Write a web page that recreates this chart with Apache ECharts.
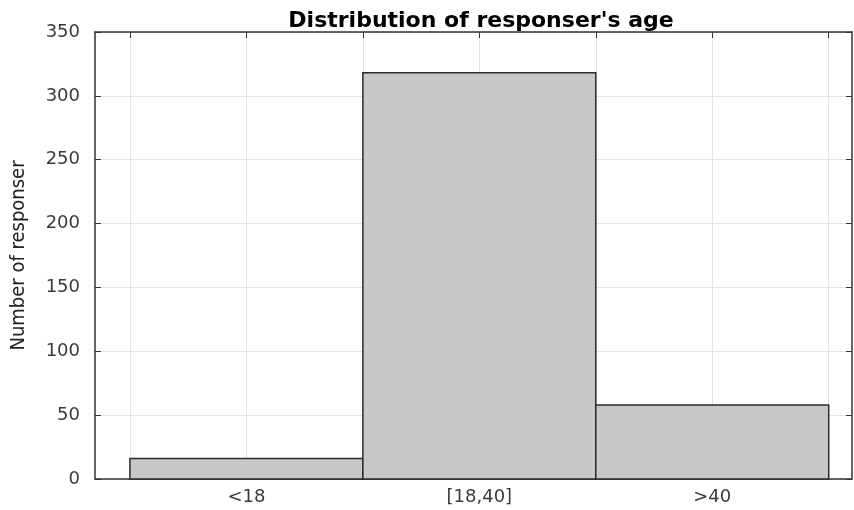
<!DOCTYPE html>
<html>
<head>
<meta charset="utf-8">
<script src="https://cdn.jsdelivr.net/npm/echarts@6/dist/echarts.min.js"></script>
<style>html,body{margin:0;padding:0;background:#fff}#c{width:854px;height:510px}</style>
</head>
<body>
<div id="c"></div>
<script>
const categories = ['<18', '[18,40]', '>40'];
const binCenters = [1, 2, 3];
const binStarts = [0.5, 1.5, 2.5];
const binEnds = [1.5, 2.5, 3.5];
const counts = [16, 318, 58];
const gridTicks = [0.5, 1, 1.5, 2, 2.5, 3, 3.5];
const yTicks = [0, 50, 100, 150, 200, 250, 300, 350];

const chart = echarts.init(document.getElementById('c'));
const labelFont = 'DejaVu Sans, sans-serif';
const barData = counts.map((v, i) => [binStarts[i], binEnds[i], v, categories[i]]);

chart.setOption({
  animation: false,
  title: {
    text: "Distribution of responser's age",
    left: 476, top: 5, textAlign: 'center',
    textStyle: { fontFamily: 'DejaVu Sans', fontWeight: 'bold', fontSize: 22, color: '#000' }
  },
  grid: { left: 95, right: 2, top: 32, bottom: 31, containLabel: false, outerBoundsMode: 'none' },
  xAxis: [{
    type: 'value', position: 'bottom', min: 0.35, max: 3.6,
    axisLine: { show: true, onZero: false, lineStyle: { color: '#333', width: 1.5 } },
    axisTick: { show: true, inside: true, length: 6, customValues: binCenters, lineStyle: { color: '#333' } },
    axisLabel: { customValues: binCenters, formatter: v => categories[binCenters.indexOf(v)] || '',
      fontFamily: labelFont, fontSize: 18, color: '#3a3a3a', margin: 9 },
    splitLine: { show: false }
  }, {
    type: 'value', position: 'top', min: 0.35, max: 3.6,
    axisLine: { show: true, onZero: false, lineStyle: { color: '#333', width: 1.5 } },
    axisTick: { show: true, inside: true, length: 6, customValues: gridTicks, lineStyle: { color: '#333' } },
    axisLabel: { show: false, customValues: gridTicks },
    splitLine: { show: true, lineStyle: { color: '#e3e3e3', width: 1 } }
  }],
  yAxis: [{
    type: 'value', min: 0, max: 350, interval: 50, position: 'left',
    axisLine: { show: true, onZero: false, lineStyle: { color: '#333', width: 1.5 } },
    axisTick: { show: true, inside: true, length: 6, lineStyle: { color: '#333' } },
    axisLabel: { fontFamily: labelFont, fontSize: 18, color: '#3a3a3a', margin: 15 },
    splitLine: { show: true, lineStyle: { color: '#e3e3e3', width: 1 } },
    name: 'Number of responser', nameLocation: 'middle', nameGap: 66, nameRotate: 90,
    nameTextStyle: { fontFamily: 'DejaVu Sans Condensed, Liberation Sans, sans-serif', fontSize: 20, color: '#222' }
  }, {
    type: 'value', min: 0, max: 350, interval: 50, position: 'right',
    axisLine: { show: true, onZero: false, lineStyle: { color: '#333', width: 1.5 } },
    axisTick: { show: true, inside: true, length: 6, lineStyle: { color: '#333' } },
    axisLabel: { show: false }, splitLine: { show: false }
  }],
  series: [{
    type: 'custom', xAxisIndex: 0, yAxisIndex: 0,
    data: barData,
    encode: { x: [0, 1], y: 2 },
    renderItem: function (params, api) {
      const p0 = api.coord([api.value(0), api.value(2)]);
      const p1 = api.coord([api.value(1), 0]);
      return {
        type: 'rect',
        shape: { x: p0[0], y: p0[1], width: p1[0] - p0[0], height: p1[1] - p0[1] },
        style: { fill: '#c8c8c8', stroke: '#2b2b2b', lineWidth: 1.5 }
      };
    }
  }]
});
</script>
</body>
</html>
